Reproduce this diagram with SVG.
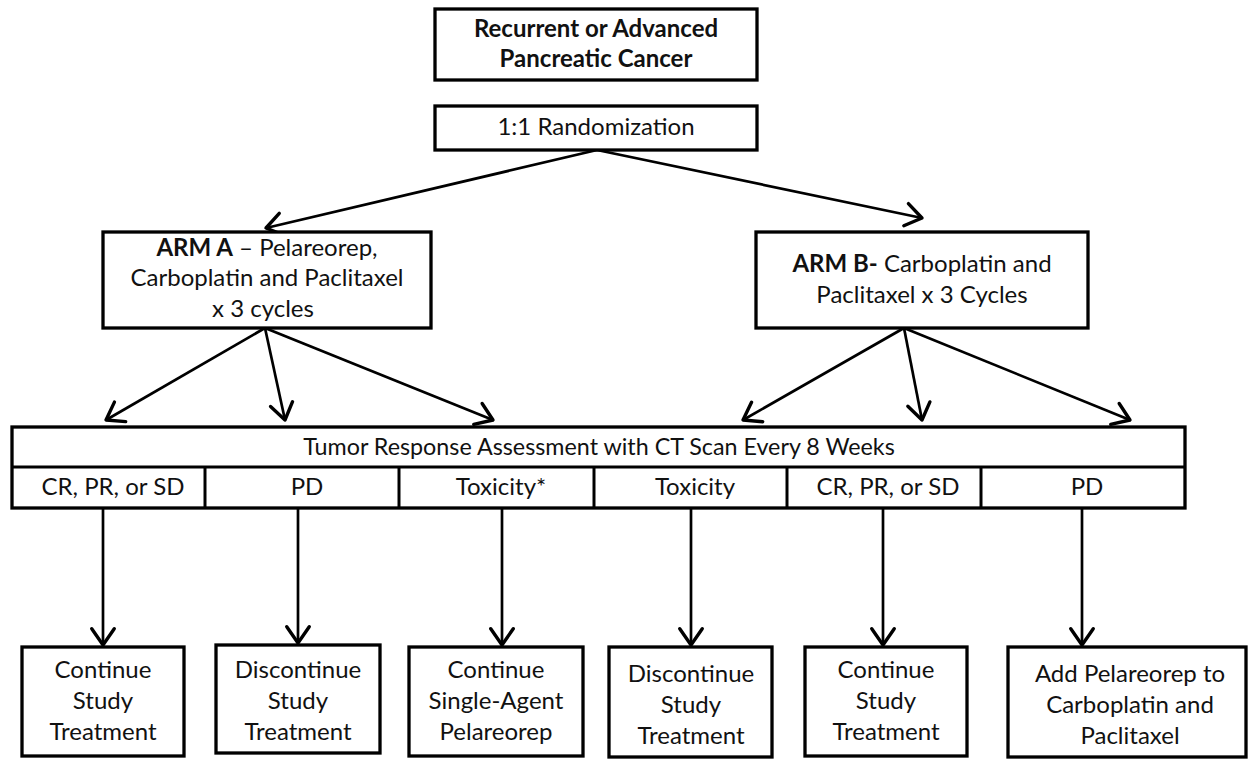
<svg xmlns="http://www.w3.org/2000/svg" width="1252" height="759" viewBox="0 0 1252 759">
<defs>
<style>
.box{fill:#fff;stroke:#000;stroke-width:3.3}
.ln{stroke:#000;stroke-width:3}
.c{fill:none;stroke:#000;stroke-width:2.7}
text{font-family:Lato,"Open Sans","Liberation Sans",sans-serif;font-size:24px;fill:#111;text-anchor:middle}
.b{font-weight:bold}
.s{font-size:23.3px}
</style>
<marker id="ah" markerUnits="userSpaceOnUse" markerWidth="30" markerHeight="30" refX="0" refY="0" viewBox="-16 -12 20 24" orient="auto">
<path d="M-13,-9 L0,0 L-13,9" fill="none" stroke="#000" stroke-width="2.7" stroke-linejoin="round" stroke-linecap="round"/>
</marker>
</defs>
<rect width="1252" height="759" fill="#fff"/>
<g id="connectors">
<line class="c" x1="597" y1="150" x2="266" y2="228" marker-end="url(#ah)"/>
<line class="c" x1="597" y1="150" x2="922" y2="218" marker-end="url(#ah)"/>
<line class="c" x1="265" y1="328" x2="106" y2="420" marker-end="url(#ah)"/>
<line class="c" x1="265" y1="328" x2="285" y2="420" marker-end="url(#ah)"/>
<line class="c" x1="265" y1="328" x2="493" y2="420" marker-end="url(#ah)"/>
<line class="c" x1="904" y1="328" x2="743" y2="420" marker-end="url(#ah)"/>
<line class="c" x1="904" y1="328" x2="922" y2="420" marker-end="url(#ah)"/>
<line class="c" x1="904" y1="328" x2="1130" y2="420" marker-end="url(#ah)"/>
<line class="c" x1="103" y1="508" x2="103" y2="645" marker-end="url(#ah)"/>
<line class="c" x1="298" y1="508" x2="298" y2="643" marker-end="url(#ah)"/>
<line class="c" x1="502" y1="508" x2="502" y2="645" marker-end="url(#ah)"/>
<line class="c" x1="691" y1="508" x2="691" y2="645" marker-end="url(#ah)"/>
<line class="c" x1="883" y1="508" x2="883" y2="645" marker-end="url(#ah)"/>
<line class="c" x1="1082" y1="508" x2="1082" y2="645" marker-end="url(#ah)"/>
</g>
<g id="n-title">
<rect class="box" x="435" y="9" width="322" height="71"/>
<text class="b" x="596" y="37">Recurrent or Advanced</text>
<text class="b" x="596" y="67">Pancreatic Cancer</text>
</g>
<g id="n-rand">
<rect class="box" x="435" y="106" width="322" height="44"/>
<text x="596" y="135">1:1 Randomization</text>
</g>
<g id="n-armA">
<rect class="box" x="103" y="232" width="328" height="96"/>
<text x="267" y="256"><tspan class="b">ARM A</tspan> – Pelareorep,</text>
<text x="267" y="286">Carboplatin and Paclitaxel</text>
<text x="263" y="317">x 3 cycles</text>
</g>
<g id="n-armB">
<rect class="box" x="756" y="232" width="332" height="96"/>
<text x="922" y="272"><tspan class="b">ARM B-</tspan> Carboplatin and</text>
<text x="922" y="303">Paclitaxel x 3 Cycles</text>
</g>
<g id="n-assess">
<rect class="box" x="12" y="427" width="1173" height="81"/>
<line class="ln" x1="12" y1="467" x2="1185" y2="467"/>
<line class="ln" x1="205" y1="467" x2="205" y2="508"/>
<line class="ln" x1="399" y1="467" x2="399" y2="508"/>
<line class="ln" x1="594" y1="467" x2="594" y2="508"/>
<line class="ln" x1="787" y1="467" x2="787" y2="508"/>
<line class="ln" x1="981" y1="467" x2="981" y2="508"/>
<text class="s" x="599" y="455">Tumor Response Assessment with CT Scan Every 8 Weeks</text>
<text x="113" y="495">CR, PR, or SD</text>
<text x="307" y="495">PD</text>
<text x="501" y="495">Toxicity*</text>
<text x="695" y="495">Toxicity</text>
<text x="888" y="495">CR, PR, or SD</text>
<text x="1087" y="495">PD</text>
</g>
<g id="n-out1">
<rect class="box" x="22" y="647" width="162" height="109"/>
<text x="103" y="678">Continue</text>
<text x="103" y="709">Study</text>
<text x="103" y="740">Treatment</text>
</g>
<g id="n-out2">
<rect class="box" x="216" y="645" width="164" height="108"/>
<text x="298" y="678">Discontinue</text>
<text x="298" y="709">Study</text>
<text x="298" y="740">Treatment</text>
</g>
<g id="n-out3">
<rect class="box" x="409" y="647" width="174" height="109"/>
<text x="496" y="678">Continue</text>
<text x="496" y="709">Single-Agent</text>
<text x="496" y="740">Pelareorep</text>
</g>
<g id="n-out4">
<rect class="box" x="609" y="647" width="163" height="110"/>
<text x="691" y="682">Discontinue</text>
<text x="691" y="713">Study</text>
<text x="691" y="744">Treatment</text>
</g>
<g id="n-out5">
<rect class="box" x="805" y="647" width="162" height="109"/>
<text x="886" y="678">Continue</text>
<text x="886" y="709">Study</text>
<text x="886" y="740">Treatment</text>
</g>
<g id="n-out6">
<rect class="box" x="1008" y="647" width="238" height="110"/>
<text x="1130" y="682">Add Pelareorep to</text>
<text x="1130" y="713">Carboplatin and</text>
<text x="1130" y="744">Paclitaxel</text>
</g>
</svg>
